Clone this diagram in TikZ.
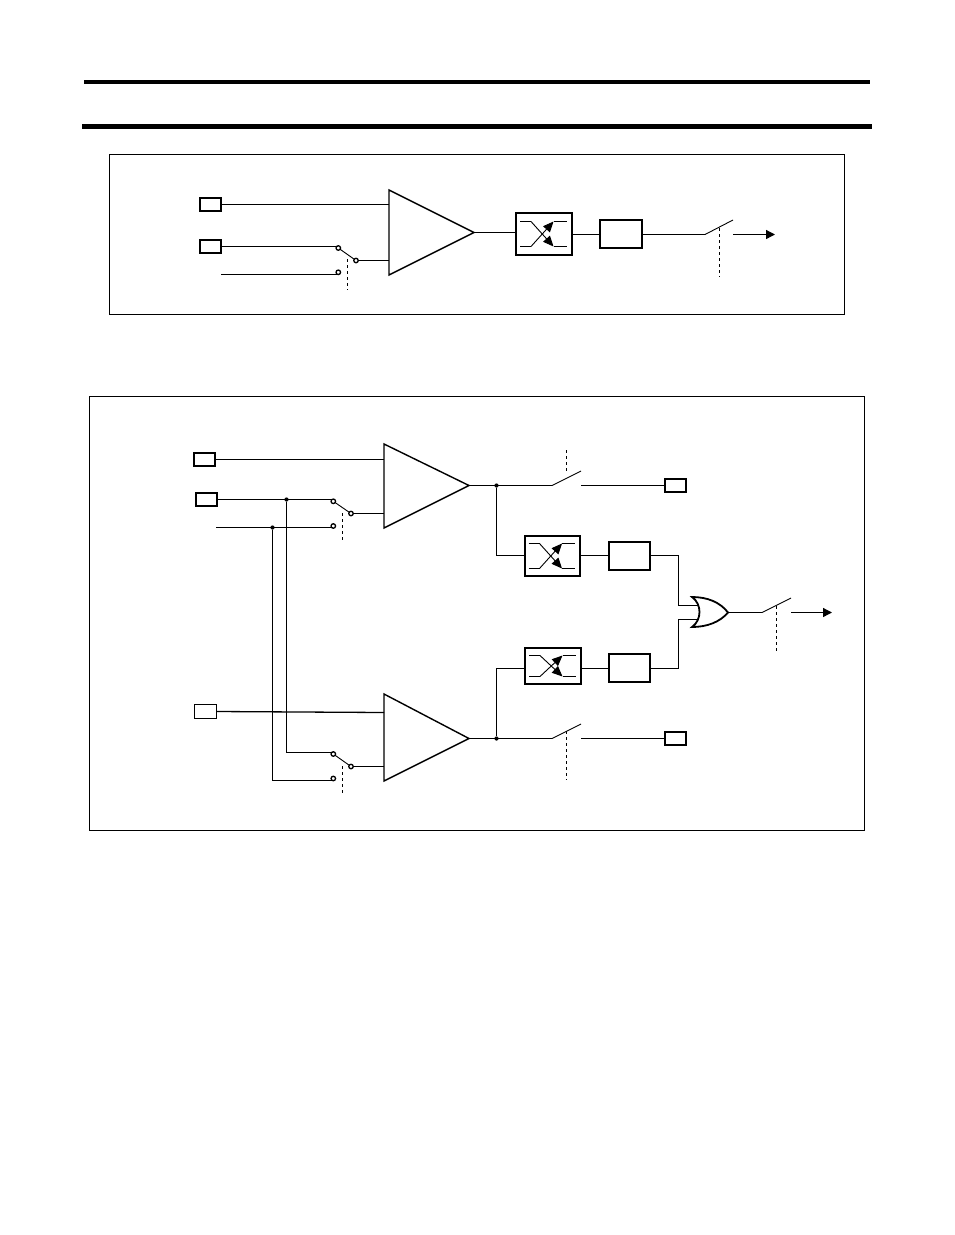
\documentclass[tikz,border=0pt]{standalone}
\usetikzlibrary{arrows.meta,calc}
\tikzset{
  x=1pt,y=-1pt,
  wire/.style={line width=1.3pt,line join=miter},
  frame/.style={draw,line width=1pt},
  pin/.style={draw,line width=2pt,fill=white,minimum width=21pt,minimum height=13pt,inner sep=0,outer sep=0},
  pin thin/.style={draw,line width=1.2pt,fill=white,minimum width=22pt,minimum height=14pt,inner sep=0,outer sep=0},
  delaybox/.style={draw,line width=2pt,fill=white,minimum width=41pt,minimum height=28pt,inner sep=0,outer sep=0},
  crossbox/.style={draw,line width=2pt,fill=white,minimum width=56pt,minimum height=42pt,inner sep=0,outer sep=0},
  contact/.style={circle,draw,line width=1.3pt,fill=white,minimum size=4.5pt,inner sep=0,outer sep=0},
  junction/.style={circle,fill=black,minimum size=4.2pt,inner sep=0,outer sep=0},
  amp/.style={draw,line width=1.4pt,line join=miter,fill=white},
  ctrl/.style={line width=1pt,dash pattern=on 3pt off 3pt},
  blade/.style={line width=0.9pt},
  outarrow/.style={line width=1.3pt,-{Triangle[length=9pt,width=9pt]}},
  xarrow/.style={line width=0.9pt,-{Triangle[length=10.5pt,width=9pt]}},
}
\newcommand{\xsymbol}[2]{%
  \draw[line width=1pt] ($(#1)+(-24,-#2)$) -- ++(11,0);
  \draw[xarrow] ($(#1)+(-13,-#2)$) -- ($(#1)+(9.5,#2)$);
  \draw[line width=1pt] ($(#1)+(9.5,#2)$) -- ($(#1)+(22.5,#2)$);
  \draw[line width=1pt] ($(#1)+(-24,#2)$) -- ++(11,0);
  \draw[xarrow] ($(#1)+(-13,#2)$) -- ($(#1)+(9.5,-#2)$);
  \draw[line width=1pt] ($(#1)+(9.5,-#2)$) -- ($(#1)+(22.5,-#2)$);
}
\begin{document}
\begin{tikzpicture}
\useasboundingbox (0,0) rectangle (954,1235);
% page rules
\coordinate (r1a) at (84,82); \coordinate (r1b) at (870,82);
\coordinate (r2a) at (82,126.5); \coordinate (r2b) at (872,126.5);
\draw[line width=4pt] (r1a) -- (r1b);
\draw[line width=5pt] (r2a) -- (r2b);
% frames
\draw[frame] (109.5,154.5) rectangle (844.5,314.5);
\draw[frame] (89.5,396.5) rectangle (864.5,830.5);

% ---------- upper diagram ----------
\node[pin] (a1) at (210.5,204.5) {};
\node[pin] (a2) at (210.5,246.5) {};
\coordinate (a3) at (221,274.5);
\coordinate (A1t) at (389,190); \coordinate (A1b) at (389,275); \coordinate (A1o) at (474,232.5);
\coordinate (a1in) at (389,204.5); \coordinate (a2in) at (389,260.5);
\draw[amp] (A1t) -- (A1o) -- (A1b) -- cycle;
\node[contact] (s1a) at (338.3,248) {};
\node[contact] (s1b) at (338.3,272.3) {};
\node[contact] (s1c) at (356,260.5) {};
\draw[wire] (a1.east) -- (a1in);
\draw[wire] (a2.east) -- (a2.east -| s1a);
\draw[wire] (a3) -- (a3 -| s1b);
\draw[wire] (s1c) -- (a2in);
\draw[blade] (s1a) -- (s1c);
\draw[ctrl] (347.5,259) -- (347.5,290);
\node[crossbox] (x1) at (544,234) {};
\xsymbol{x1}{12.5}
\node[delaybox,minimum width=42pt] (d1) at (621,234) {};
\coordinate (b1) at (705,234.5); \coordinate (b1e) at (733,220); \coordinate (o1) at (733,234.5); \coordinate (o1e) at (775,234.5);
\draw[wire] (A1o) -- (A1o -| x1.west);
\draw[wire] (x1.east |- b1) -- (d1.west |- b1);
\draw[wire] (d1.east |- b1) -- (b1);
\draw[blade] (b1) -- (b1e);
\draw[ctrl] (719.5,228) -- (719.5,277);
\draw[outarrow] (o1) -- (o1e);

% ---------- lower diagram ----------
\node[pin] (p1) at (204.5,459.5) {};
\node[pin] (p2) at (206.5,499.5) {};
\coordinate (p3) at (216,527.5);
\node[pin thin] (p4) at (205.5,711.5) {};
\coordinate (Bt) at (384,444); \coordinate (Bb) at (384,528); \coordinate (Bo) at (469,485.5);
\coordinate (Ct) at (384,694); \coordinate (Cb) at (384,781); \coordinate (Co) at (469,738.5);
\coordinate (bi1) at (384,459.5); \coordinate (bi2) at (384,513.5);
\coordinate (ci1) at (384,712.5); \coordinate (ci2) at (384,766.5);
\draw[amp] (Bt) -- (Bo) -- (Bb) -- cycle;
\draw[amp] (Ct) -- (Co) -- (Cb) -- cycle;
\node[contact] (s2a) at (333.3,501.3) {};
\node[contact] (s2b) at (333.3,526) {};
\node[contact] (s2c) at (351,513.5) {};
\node[contact] (s3a) at (333.3,754) {};
\node[contact] (s3b) at (333.3,778.5) {};
\node[contact] (s3c) at (351,766.5) {};
\node[junction] (j1) at (286.5,499.5) {};
\node[junction] (j2) at (272.5,527.5) {};
\coordinate (t3) at (333.3,752.5);
\coordinate (t4) at (333.3,780.5);
\draw[wire] (p1.east) -- (bi1);
\draw[wire] (p2.east) -- (p2.east -| s2a);
\draw[wire] (p3) -- (p3 -| s2b);
\draw[wire] (s2c) -- (bi2);
\draw[wire] (p4.east) -- (ci1);
\draw[wire] (j1) |- (t3);
\draw[wire] (j2) |- (t4);
\draw[wire] (s3c) -- (ci2);
\draw[blade] (s2a) -- (s2c);
\draw[blade] (s3a) -- (s3c);
\draw[ctrl] (342.5,513) -- (342.5,542);
\draw[ctrl] (342.5,766) -- (342.5,795);

\node[junction] (j3) at (496.5,485.5) {};
\node[junction] (j4) at (496.5,738.5) {};
\node[pin] (q1) at (675.5,485.5) {};
\node[pin] (q2) at (675.5,738.5) {};
\coordinate (b2) at (552,485.5); \coordinate (b2e) at (581,471); \coordinate (o2) at (581,485.5);
\coordinate (b3) at (552,738.5); \coordinate (b3e) at (581,724); \coordinate (o3) at (581,738.5);
\draw[wire] (Bo) -- (b2);
\draw[blade] (b2) -- (b2e);
\draw[wire] (o2) -- (q1.west);
\draw[ctrl] (566.5,450) -- (566.5,473);
\draw[wire] (Co) -- (b3);
\draw[blade] (b3) -- (b3e);
\draw[wire] (o3) -- (q2.west);
\draw[ctrl] (566.5,731) -- (566.5,780);

\coordinate (lane2) at (0,555.5);
\coordinate (lane3) at (0,668.5);
\node[crossbox,minimum width=55pt,minimum height=40pt] (x2) at (552.5,556) {};
\xsymbol{x2}{12.5}
\node[crossbox,minimum height=36pt] (x3) at (553,666) {};
\xsymbol{x3}{10.5}
\node[delaybox] (d2) at (629.5,556) {};
\node[delaybox] (d3) at (629.5,668) {};
\draw[wire] (j3) |- (x2.west |- lane2);
\draw[wire] (j4) |- (x3.west |- lane3);
\draw[wire] (x2.east |- lane2) -- (d2.west |- lane2);
\draw[wire] (x3.east |- lane3) -- (d3.west |- lane3);

% OR gate
\coordinate (gt) at (692,597); \coordinate (gb) at (692,627); \coordinate (go) at (728,612.5);
\coordinate (i1) at (698,605.5); \coordinate (i2) at (698,619.5); \coordinate (rail) at (678.5,612);
\draw[wire] (d2.east |- lane2) -| (rail |- i1) -- (i1);
\draw[wire] (d3.east |- lane3) -| (rail |- i2) -- (i2);
\draw[line width=1.8pt,line join=miter,fill=white] (gt) .. controls (707,597) and (720,602) .. (go)
  .. controls (720,622) and (707,627) .. (gb)
  .. controls (702,620) and (702,604) .. (gt) -- cycle;
\coordinate (b4) at (762,612.5); \coordinate (b4e) at (791,598); \coordinate (o4) at (791,612.5); \coordinate (o4e) at (832,612.5);
\draw[wire] (go) -- (b4);
\draw[blade] (b4) -- (b4e);
\draw[ctrl] (776.5,606) -- (776.5,653);
\draw[outarrow] (o4) -- (o4e);
\end{tikzpicture}
\end{document}
